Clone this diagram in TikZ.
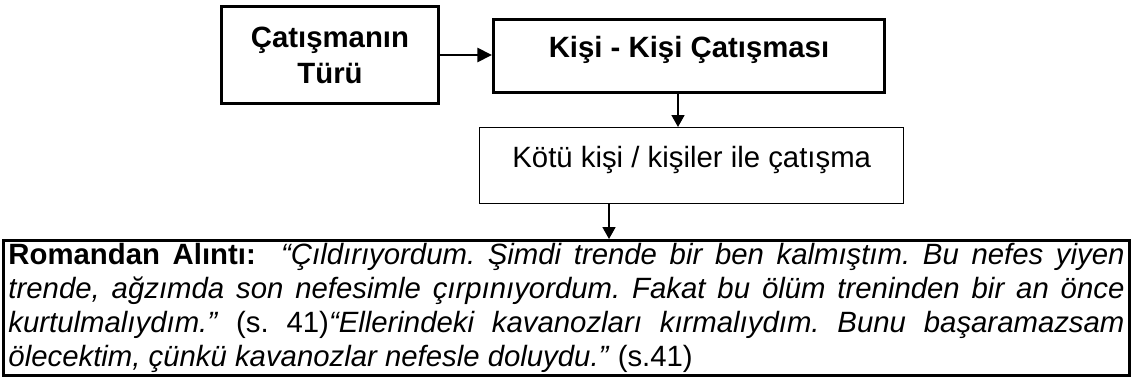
\documentclass[tikz,border=0pt]{standalone}
\usepackage{fontspec}
\setmainfont{Liberation Sans}
\usetikzlibrary{arrows.meta,positioning}

\begin{document}
\begin{tikzpicture}[
  x=0.75pt,y=-0.75pt,
  font=\fontsize{22}{25.5}\selectfont,
  box/.style={draw,line width=2.25pt,align=center,inner sep=0pt,
              anchor=north west,font=\fontsize{22}{27}\selectfont\bfseries},
  thinbox/.style={box,line width=1.1pt,font=\fontsize{22}{25.5}\selectfont},
  quote/.style={draw,line width=2.25pt,align=justify,anchor=north west,
                inner xsep=3.75pt,inner ysep=2pt,text width=837pt,
                minimum height=100.5pt},
  flow/.style={-{Triangle[length=11pt,width=10.5pt]},line width=2pt},
  vflow/.style={-{Triangle[length=9pt,width=9.75pt]},line width=1.3pt}]

\useasboundingbox (0,0) rectangle (1131,378);

% ---- nodes ------------------------------------------------------------
\node[box,minimum width=162.75pt,minimum height=72.75pt] (tur) at (220,5)
  {Çatışmanın\\Türü};
\node[box,minimum width=293.25pt,text height=28.5pt,text depth=26.25pt] (kisi)
  at (492,18) {Kişi - Kişi Çatışması};
\node[thinbox,minimum width=318pt,text height=30pt,text depth=27pt] (kotu)
  at (479,127) {Kötü kişi / kişiler ile çatışma};
\node[quote] (alinti) at (2,239)
  {\frenchspacing\hyphenpenalty=10000\exhyphenpenalty=10000
   \textbf{Romandan Alıntı:}\ \ \textit{“Çıldırıyordum. Şimdi trende bir ben
   kalmıştım. Bu nefes yiyen}\linebreak
   \textit{trende, ağzımda son nefesimle çırpınıyordum. Fakat bu ölüm treninden
   bir an önce}\linebreak
   \textit{kurtulmalıydım.”} (s. 41)\textit{“Ellerindeki kavanozları
   kırmalıydım. Bunu başaramazsam}\linebreak
   \textit{ölecektim, çünkü kavanozlar nefesle doluydu.”} (s.41)};

\coordinate (down1) at (678,0);
\coordinate (down2) at (609,0);

% ---- edges ------------------------------------------------------------
\draw[flow]  (tur.east) -- (tur.east -| kisi.west);
\draw[vflow] (kisi.south -| down1) -- (kotu.north -| down1);
\draw[vflow] (kotu.south -| down2) -- (alinti.north -| down2);
\end{tikzpicture}
\end{document}
